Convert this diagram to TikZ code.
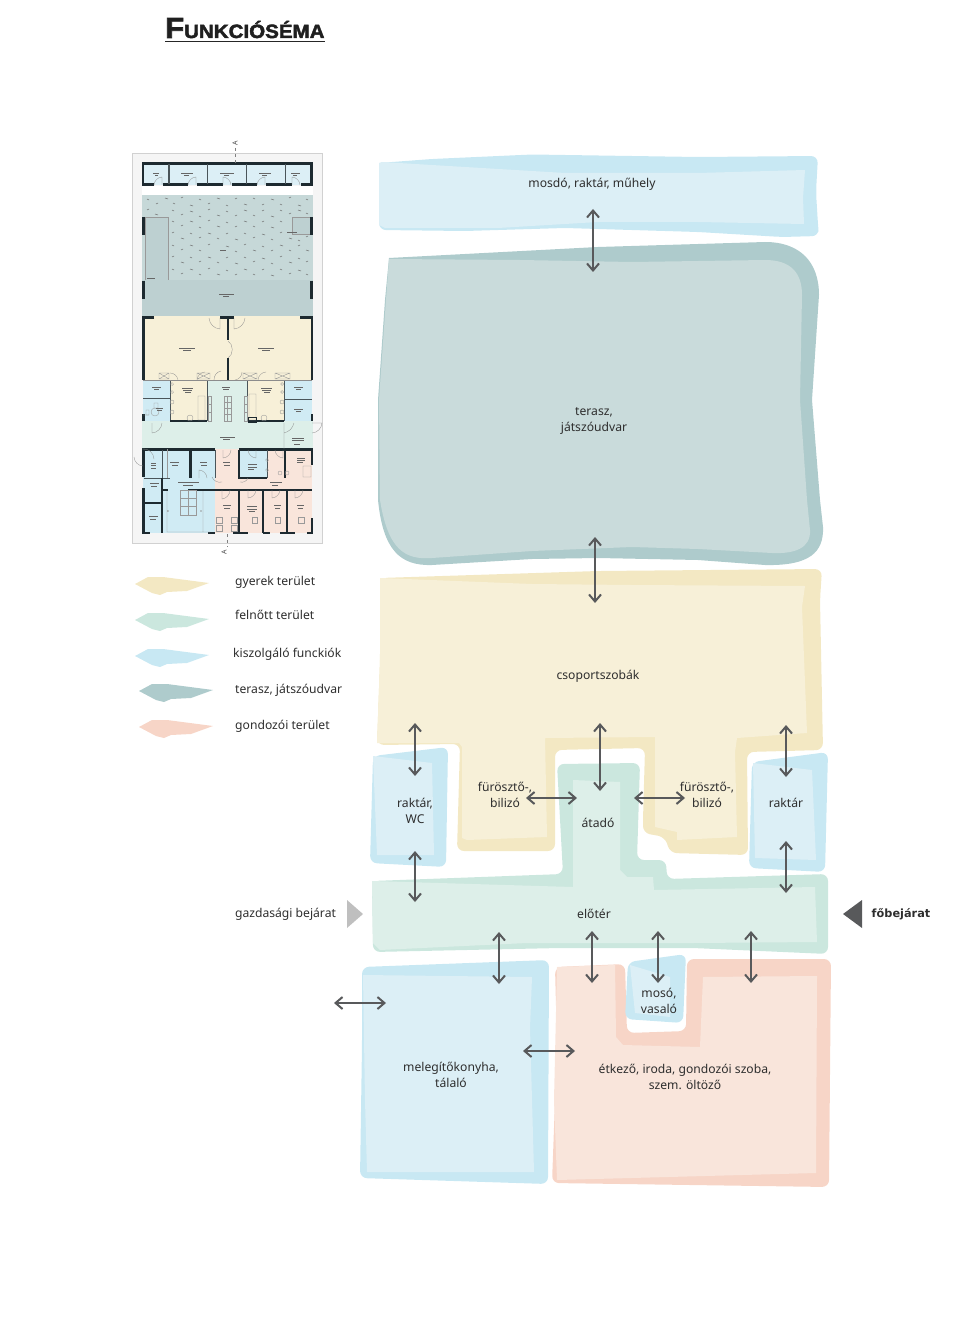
\documentclass[tikz,border=0pt]{standalone}
\usepackage{fontspec}
\setmainfont{Noto Sans}[BoldFont=DejaVu Sans Bold]
\newfontfamily\titlefont{Liberation Sans}[BoldFeatures={FakeStretch=1.07,RawFeature={embolden=2.4}}]
\usetikzlibrary{arrows.meta}
\definecolor{blueA}{HTML}{C8E8F3}
\definecolor{blueB}{HTML}{DCEFF6}
\definecolor{tealA}{HTML}{AECBCC}
\definecolor{tealB}{HTML}{C9DBDB}
\definecolor{yellowA}{HTML}{F3E8C3}
\definecolor{yellowB}{HTML}{F7F0D8}
\definecolor{greenA}{HTML}{CBE7DE}
\definecolor{greenB}{HTML}{DDEFE9}
\definecolor{pinkA}{HTML}{F7D5C7}
\definecolor{pinkB}{HTML}{F9E5DB}
\definecolor{arrowgrey}{HTML}{58595B}
\definecolor{wallblack}{HTML}{1D2A30}
\definecolor{courtgreen}{HTML}{C6D8D8}
\definecolor{terracegrey}{HTML}{BDD0D1}

\begin{document}
\begin{tikzpicture}[x=1pt,y=-1pt,
    zone/.style={rounded corners=7pt},
    label/.style={inner sep=0pt,yshift=-1.5pt,align=center,text=black!82,font=\fontsize{12.15}{16}\selectfont},
    legendtext/.style={label,anchor=west},
    link/.style={{Straight Barb[length=7pt,width=12pt,line width=2pt]}-{Straight Barb[length=7pt,width=12pt,line width=2pt]},arrowgrey,line width=2.1pt},
    wall/.style={wallblack,line width=2.4pt},
    thinwall/.style={wallblack!80,line width=0.8pt},
    door/.style={black!45,line width=0.3pt},
    furn/.style={black!40,line width=0.35pt},
    plantag/.style={black!60,line width=0.45pt},
    courtmark/.style={black!55,line width=0.5pt}]
  \useasboundingbox (0,0) rectangle (960,1337);
  % title
  \node[inner sep=0pt,anchor=base west,text=black!88] (title) at (165,38) {\titlefont\bfseries\fontsize{29}{30}\selectfont F\fontsize{19.2}{20}\selectfont UNKCIÓSÉMA};
  \draw[black!85,line width=1.5pt] (title.base west |- 0,41.3) -- (325,41.3);

  % floor plan
  \fill[black!4] (132.5,153) rectangle (322,543);
  \draw[black!18,line width=0.6pt] (132.5,153) rectangle (322,543);
  \fill[white] (142,186) rectangle (313,195);
  \fill[blueB] (143,163) rectangle (312,185);
  \fill[courtgreen] (142,195) rectangle (313,280);
  \fill[terracegrey] (145,217) rectangle (168,280);
  \fill[terracegrey] (292,217) rectangle (310,234);
  \draw[black!40,line width=0.5pt] (145,217) rectangle (168,280) (292,217) rectangle (310,234);
  \fill[terracegrey] (142,280) rectangle (313,316);
  \fill[yellowB] (143,316) rectangle (312,380);
  \fill[blueA!60!blueB] (143,381) rectangle (170,421);
  \fill[yellowB] (170,381) rectangle (207,421);
  \fill[greenB] (207,381) rectangle (247,421);
  \fill[yellowB] (247,381) rectangle (284,421);
  \fill[blueA!60!blueB] (284,381) rectangle (312,421);
  \fill[greenB] (142,421) rectangle (313,449);
  \fill[blueA!60!blueB] (143,449) rectangle (215,533);
  \fill[pinkB] (215,449) rectangle (239,490);
  \fill[blueA!60!blueB] (239,449) rectangle (267,478);
  \fill[pinkB] (267,449) rectangle (312,478);
  \fill[pinkB] (239,478) rectangle (312,490);
  \fill[pinkB] (215,490) rectangle (312,533);
  \draw[courtmark] (147,199)--+(2,1) (156,204)--+(2,-1) (165,198)--+(3,1) (173,203)--+(2,1) (181,198)--+(2,-1) (190,205)--+(3,1)
    (199,199)--+(2,1) (208,204)--+(2,-1) (217,198)--+(3,1) (226,205)--+(2,1) (235,199)--+(2,-1) (244,204)--+(3,1)
    (253,198)--+(2,1) (262,205)--+(2,-1) (271,199)--+(3,1) (280,204)--+(2,1) (289,198)--+(2,-1) (298,205)--+(3,1) (306,199)--+(2,1)
    (147,210)--+(2,-1) (155,214)--+(3,1) (172,210)--+(2,1) (181,215)--+(2,-1) (190,211)--+(3,1) (199,216)--+(2,1) (208,210)--+(2,-1)
    (217,215)--+(3,1) (226,211)--+(2,1) (235,216)--+(2,-1) (244,210)--+(3,1) (253,215)--+(2,1) (262,211)--+(2,-1) (271,216)--+(3,1)
    (280,210)--+(2,1) (289,214)--+(2,-1) (298,210)--+(3,1) (306,213)--+(2,1)
    (172,221)--+(2,1) (181,226)--+(2,-1) (190,221)--+(3,1) (199,227)--+(2,1) (208,221)--+(2,-1) (217,226)--+(3,1) (226,222)--+(2,1)
    (235,227)--+(2,-1) (244,221)--+(3,1) (253,226)--+(2,1) (262,222)--+(2,-1) (271,227)--+(3,1) (280,221)--+(2,1)
    (172,233)--+(2,-1) (181,238)--+(3,1) (190,233)--+(2,1) (199,238)--+(2,-1) (208,233)--+(3,1) (217,238)--+(2,1) (226,234)--+(2,-1)
    (235,239)--+(3,1) (244,233)--+(2,1) (253,238)--+(2,-1) (262,234)--+(3,1) (271,239)--+(2,1) (280,233)--+(2,-1) (289,238)--+(3,1) (298,240)--+(2,1) (306,237)--+(2,-1)
    (172,245)--+(2,1) (181,250)--+(2,-1) (190,245)--+(3,1) (199,250)--+(2,1) (208,245)--+(2,-1) (226,246)--+(3,1) (235,251)--+(2,1)
    (244,245)--+(2,-1) (253,250)--+(3,1) (262,246)--+(2,1) (271,251)--+(2,-1) (280,245)--+(3,1) (289,250)--+(2,1) (298,246)--+(2,-1) (306,250)--+(3,1)
    (172,257)--+(2,-1) (181,262)--+(3,1) (190,257)--+(2,1) (199,262)--+(2,-1) (208,257)--+(3,1) (217,262)--+(2,1) (226,258)--+(2,-1)
    (235,263)--+(3,1) (244,257)--+(2,1) (253,262)--+(2,-1) (262,258)--+(3,1) (271,263)--+(2,1) (280,257)--+(2,-1) (289,262)--+(3,1) (298,258)--+(2,1) (306,262)--+(2,-1)
    (172,269)--+(2,1) (181,274)--+(2,-1) (190,269)--+(3,1) (199,274)--+(2,1) (208,269)--+(2,-1) (217,274)--+(3,1) (226,270)--+(2,1)
    (235,275)--+(2,-1) (244,269)--+(3,1) (253,274)--+(2,1) (262,270)--+(2,-1) (271,275)--+(3,1) (280,269)--+(2,1) (289,274)--+(2,-1) (298,270)--+(3,1) (306,274)--+(2,1);
  % plan walls
  \draw[wall] (154,184.7) -- (142.8,184.7) -- (142.8,163.7) -- (311.3,163.7) -- (311.3,184.7) -- (300.7,184.7);
  \draw[wall] (162.7,184.7) -- (188,184.7) (196.7,184.7) -- (223,184.7) (231.7,184.7) -- (257,184.7) (265.7,184.7) -- (292,184.7);
  \draw[thinwall,line width=1.1pt] (169,164) -- (169,184) (207.7,164) -- (207.7,184) (246.7,164) -- (246.7,184) (285.7,164) -- (285.7,184);
  \draw[wall,line width=2.6pt] (143.3,217) -- (143.3,235) (143.3,281) -- (143.3,299) (311.7,217) -- (311.7,235) (311.7,281) -- (311.7,299);
  \draw[wall] (154,317.5) -- (143.3,317.5) -- (143.3,380) (220,317.5) -- (234,317.5) (300,317.5) -- (311.7,317.5) -- (311.7,380);
  \draw[wall] (228,317.5) -- (228,340) (228,358) -- (228,380);
  \draw[black!45,line width=0.8pt] (143,380) -- (312,380);
  \draw[thinwall] (170,381) -- (170,421) (207,381) -- (207,421) (247,381) -- (247,421) (284,381) -- (284,421) (143,398) -- (170,398) (284,399) -- (312,399);
  \draw[wall,line width=1.5pt] (170,421) -- (207,421) (247,421) -- (284,421);
  \draw[wall] (143.3,414) -- (143.3,421) (311.7,414) -- (311.7,421);
  \draw[wall] (143.3,477) -- (143.3,449.5) -- (215,449.5) (239,449.5) -- (311.7,449.5) -- (311.7,465);
  \draw[wall] (143.3,488) -- (143.3,533) -- (150,533) (208,533) -- (215,533) (233,533) -- (248,533) (263,533) -- (270,533) (280,533) -- (295,533) (307,533) -- (311.7,533) -- (311.7,518);
  \draw[thinwall] (162,450) -- (162,478) (215,450) -- (215,478) (144,478) -- (170,478);
  \draw[wall,line width=2.4pt] (190.5,450) -- (190.5,478);
  \draw[wall,line width=1.2pt] (162,478) -- (162,533) (144,503) -- (162,503) (162,490) -- (168,490) (188,490) -- (215,490);
  \draw[wall,line width=1.2pt] (239,450) -- (239,478) -- (267,478) (285,450) -- (285,478);
  \draw[thinwall] (267,450) -- (267,478);
  \draw[wall,line width=1.2pt] (215,490) -- (312,490) (239,490) -- (239,533) (263,490) -- (263,533) (287,490) -- (287,533);
  % doors
  \draw[door] (220,329) -- (220,318) (209,318) to[bend right=40] (220,329);
  \draw[door] (234,329) -- (234,318) (245,318) to[bend left=40] (234,329);
  \draw[door] (228,341) to[bend left=60] (228,358);
  \draw[door] (154,185) to[bend left=40] (162,177) -- (162,185) (188,185) to[bend left=40] (196,177) -- (196,185);
  \draw[door] (231,185) to[bend right=40] (223,177) -- (223,185) (257,185) to[bend left=40] (265,177) -- (265,185);
  \draw[door] (300,185) to[bend right=40] (292,177) -- (292,185);
  \draw[door] (143,415) -- (149,415) (170,373) to[bend left=40] (178,380) (197,380) to[bend left=40] (205,372) (214,380) to[bend left=40] (221,371);
  \draw[door] (235,380) to[bend right=40] (242,372) (258,380) to[bend left=40] (266,372);
  \draw[door] (152,423) -- (152,433) (152,433) to[bend right=40] (162,423);
  \draw[door] (312,423) -- (322,423) (312,433) to[bend right=40] (322,423);
  \draw[door] (284,423) -- (284,449) (284,433) to[bend right=30] (294,423);
  \draw[door] (142,449) to[bend left=50] (154,459) (134,457) to[bend right=40] (143,466);
  \draw[door] (223,450) -- (223,458) to[bend right=40] (231,450);
  \draw[door] (256,450) -- (256,458) to[bend left=40] (248,450) (275,450) to[bend right=40] (283,458) -- (283,450);
  \draw[door] (199,478) -- (199,470) to[bend left=40] (207,478) (222,482) to[bend left=40] (212,477);
  \draw[door] (240,482) to[bend right=40] (248,478) (222,490) -- (222,499) to[bend right=40] (230,490);
  \draw[door] (248,490) -- (248,498) to[bend right=40] (256,490) (272,490) -- (272,498) to[bend right=40] (280,490);
  \draw[door] (295,490) -- (295,498) to[bend right=40] (303,490);
  % plan furniture
  \draw[black!40,line width=0.4pt] (159,373) rectangle (169,379) (159,373) -- (169,379) (159,379) -- (169,373);
  \draw[black!40,line width=0.4pt] (197,373) rectangle (210,379) (197,373) -- (210,379) (197,379) -- (210,373);
  \draw[black!40,line width=0.4pt] (243,373) rectangle (257,379) (243,373) -- (257,379) (243,379) -- (257,373);
  \draw[black!40,line width=0.4pt] (275,373) rectangle (290,379) (275,373) -- (290,379) (275,379) -- (290,373);
  \draw[furn] (224,396) rectangle (231,421) (224,402) -- (231,402) (224,408) -- (231,408) (224,414) -- (231,414) (227.5,396) -- (227.5,421);
  \draw[furn] (208,396) rectangle (211,421) (244,396) rectangle (247,421) (208,404) -- (211,404) (208,412) -- (211,412) (244,404) -- (247,404) (244,412) -- (247,412);
  \draw[furn] (198,396) rectangle (205,420) (249,394) rectangle (256,420) (172,384) circle (1.5) (172,392) circle (1.5) (172,402) circle (2) (172,412) circle (2) (282,402) circle (2) (282,412) circle (2) (282,384) circle (1.5) (282,392) circle (1.5) (190,418) circle (3) (264,418) circle (3);
  \draw[furn] (155,412) circle (4) (154,403) rectangle (158,408) (146,410) rectangle (149,415);
  \draw[wallblack,line width=0.7pt] (248,417) rectangle (256,422);
  \draw[furn] (180,490) rectangle (196,515) (188,490) -- (188,515) (180,498) -- (196,498) (180,506) -- (196,506);
  \draw[furn] (168,511) circle (0.6) (201,511) circle (0.6) (167,491) -- (167,532) -- (210,532) (203,491) -- (203,532);
  \draw[furn] (216,517) rectangle (222,523) (216,525) rectangle (222,531) (231,517) rectangle (237,523) (231,525) rectangle (237,531);
  \draw[furn] (252,517) rectangle (257,523) (275,517) rectangle (280,523) (298,517) rectangle (304,523);
  \draw[furn] (267,470) circle (1.5) (267,460) circle (1.5) (280,473) circle (2) (287,473) circle (2) (303,466) rectangle (311,477);
  \draw[furn] (167,449) -- (167,478);
  % plan room labels, too small to read
  \draw[plantag] (153,173.5)--+(6,0) (155,175.5)--+(3,0) (181,173.5)--+(12,0) (184,175.5)--+(5,0) (220,173.5)--+(14,0) (224,175.5)--+(5,0);
  \draw[plantag] (259,173.5)--+(12,0) (262,175.5)--+(5,0) (291,173.5)--+(9,0) (293,175.5)--+(4,0) (287,232.5)--+(10,0) (220,250)--+(6,0) (147,278.5)--+(8,0);
  \draw[plantag] (219,294.5)--+(15,0) (223,296.5)--+(6,0) (179,348)--+(16,0) (183,350)--+(8,0) (258,348)--+(16,0) (262,350)--+(8,0);
  \draw[plantag] (152,387)--+(9,0) (154,389)--+(5,0) (182,388)--+(11,0) (183,390)--+(9,0) (185,392.5)--+(6,0) (222,387)--+(8,0) (223,389.5)--+(6,0);
  \draw[plantag] (261,388)--+(11,0) (262,390)--+(9,0) (264,392.5)--+(6,0) (294,387)--+(9,0) (296,389)--+(5,0) (294,409)--+(9,0) (296,411)--+(5,0) (156,408)--+(7,0) (157,410)--+(5,0);
  \draw[plantag] (220,437)--+(15,0) (223,439.5)--+(7,0) (292,438)--+(12,0) (292,440)--+(12,0) (294,444)--+(6,0);
  \draw[plantag] (151,463)--+(5,0) (151,465)--+(5,0) (151,468)--+(5,0) (170,462)--+(9,0) (172,465)--+(6,0) (200,462)--+(7,0) (201,465)--+(6,0) (223,462)--+(7,0) (224,465)--+(6,0) (248,464)--+(9,0) (248,467)--+(9,0) (248,469)--+(6,0) (297,458)--+(8,0) (297,460)--+(8,0) (297,462)--+(6,0);
  \draw[plantag] (150,483)--+(9,0) (151,486)--+(6,0) (178,482)--+(21,0) (183,485)--+(10,0) (270,482)--+(12,0) (272,485)--+(6,0) (149,516)--+(9,0) (150,519)--+(6,0);
  \draw[plantag] (223,505)--+(8,0) (224,508)--+(6,0) (247,506)--+(10,0) (247,509)--+(10,0) (249,511)--+(6,0) (274,505)--+(7,0) (275,508)--+(5,0) (297,505)--+(7,0) (298,508)--+(5,0);
  % section marks
  \draw[black!50,dashed,line width=0.35pt] (235,148) -- (235,163);
  \node[inner sep=0pt,rotate=90,font=\fontsize{7}{8}\selectfont,text=black!70] (secA) at (235,143) {A};
  \draw[black!50,dashed,line width=0.35pt] (227,534) -- (227,547);
  \node[inner sep=0pt,rotate=90,font=\fontsize{7}{8}\selectfont,text=black!70] (secB) at (224,552) {A};

  % legend
  \fill[yellowA] (135,584) -- (148,577) -- (163,577) -- (209,583) -- (187,591) -- (167,592) -- (160,595) -- (152,593) -- cycle;
  \fill[greenA] (135,620) -- (148,613) -- (163,613) -- (209,619) -- (187,627) -- (167,628) -- (160,631) -- (152,629) -- cycle;
  \fill[blueA] (135,656) -- (148,649) -- (163,649) -- (209,655) -- (187,663) -- (167,664) -- (160,667) -- (152,665) -- cycle;
  \fill[tealA] (139,691) -- (152,684) -- (167,684) -- (213,690) -- (191,698) -- (171,699) -- (164,702) -- (156,700) -- cycle;
  \fill[pinkA] (139,727) -- (152,720) -- (167,720) -- (213,726) -- (191,734) -- (171,735) -- (164,738) -- (156,736) -- cycle;
  \node[legendtext] (lgyerek) at (235,581) {gyerek terület};
  \node[legendtext] (lfelnott) at (235,613.5) {felnőtt terület};
  \node[legendtext] (lkiszolg) at (233,653) {kiszolgáló funckiók};
  \node[legendtext] (lterasz) at (235,689) {terasz, játszóudvar};
  \node[legendtext] (lgondozo) at (235,725) {gondozói terület};

  % zones, outer band then lighter inside
  \fill[blueA,zone] (379,163) -- (432,159) -- (532,154.5) -- (698,157) -- (818,156) -- (816,192) -- (818,225) -- (819,236) -- (782,237) -- (698,232) -- (565,228) -- (465,231) -- (379,230) -- cycle;
  \fill[blueB] (382,162) -- (465,167) -- (565,173) -- (698,173) -- (805,170) -- (803,198) -- (804,224) -- (698,222) -- (598,222) -- (498,228) -- (385,228) -- (379,225) -- (379,163) -- cycle;

  \fill[tealA] (389,258) -- (598,247) -- (765,242) .. controls (800,242) and (819,262) .. (819,295) -- (812,400) -- (820,500) -- (823,527) .. controls (824,552) and (810,566) .. (765,565) -- (698,560) -- (598,558) -- (532,559) -- (432,565) .. controls (400,566) and (383,550) .. (378,500) -- (378,400) -- (385,300) -- cycle;
  \fill[tealB] (389,259) -- (520,260) -- (632,262) -- (765,260) .. controls (790,260) and (802,272) .. (802,295) -- (800,400) -- (807,500) -- (810,530) .. controls (811,548) and (795,554) .. (772,553) -- (698,549) -- (632,547) -- (532,551) -- (432,558) .. controls (405,560) and (388,550) .. (380,500) -- (379,400) -- (386,300) -- cycle;

  \fill[yellowA,zone] (380,578) -- (598,571) -- (822,569) -- (820,600) -- (823,750) -- (747,752) -- (748,855) -- (670,853) -- (665,837) -- (643,833) -- (643,820) -- (645,748) -- (555,750) -- (555,851) -- (457,851) -- (460,744) -- (377,745) -- (380,660) -- cycle;
  \fill[yellowB] (380,578) -- (532,584) -- (632,585) -- (805,586) -- (802,607) -- (807,733) -- (737,738) -- (735,752) -- (737,837) -- (677,840) -- (677,832) -- (655,827) -- (655,737) -- (545,738) -- (547,837) -- (467,840) -- (462,838) -- (462,747) -- (459,743) -- (377,743) -- (380,660) -- cycle;

  \fill[blueA,zone] (373,756) -- (448,747) -- (446,867) -- (370,863) -- cycle;
  \fill[blueB] (373,756) -- (432,763) -- (434,855) -- (377,855) -- cycle;
  \fill[blueA,zone] (752,762) -- (828,752) -- (825,872) -- (749,868) -- cycle;
  \fill[blueB] (753,763) -- (812,770) -- (816,860) -- (755,858) -- cycle;

  \fill[greenA,zone] (372,881) -- (563,874) -- (557,764) -- (640,763) -- (637,860) -- (666,860) -- (667,879) -- (828,874) -- (828,954) -- (693,948) -- (560,948) -- (373,952) -- cycle;
  \fill[greenB] (372,881) -- (573,887) -- (573,780) -- (620,782) -- (620,870) -- (627,877) -- (653,877) -- (654,890) -- (815,887) -- (817,942) -- (693,943) -- (527,943) -- (380,950) -- (373,943) -- cycle;

  \fill[blueA,zone] (362,967) -- (549,960) -- (548,1184) -- (360,1178) -- (362,1045) -- cycle;
  \fill[blueB] (363,975) -- (532,977) -- (530,1028) -- (534,1172) -- (367,1172) -- (365,1100) -- cycle;

  \fill[pinkA,zone] (555,967) -- (625,964) -- (627,1033) -- (686,1031) -- (687,959) -- (831,959) -- (829,1187) -- (552,1183) -- (557,1045) -- cycle;
  \fill[pinkB] (557,967) -- (615,965) -- (616,1037) -- (623,1045) -- (700,1047) -- (703,977) -- (817,976) -- (816,1173) -- (557,1180) -- (554,1100) -- cycle;

  \fill[blueA,zone] (628,962) -- (686,954) -- (683,1023) -- (625,1019) -- cycle;
  \fill[blueB] (630,965) -- (670,977) -- (670,1017) -- (635,1013) -- cycle;

  % entrance markers
  \fill[black!25] (347,900) -- (363,914) -- (347,928) -- cycle;
  \fill[arrowgrey] (862,900) -- (843,914) -- (862,928) -- cycle;

  % zone labels
  \node[label] (mosdo) at (592,183) {mosdó, raktár, műhely};
  \node[label] (terasz) at (594,419) {terasz,\\játszóudvar};
  \node[label] (csoport) at (598,675) {csoportszobák};
  \node[label] (raktarwc) at (415,809) {raktár,\\WC};
  \node[label] (furosztoL) at (505,793) {fürösztő-,\\bilizó};
  \node[label] (furosztoR) at (707,793) {fürösztő-,\\bilizó};
  \node[label] (raktar) at (786,801) {raktár};
  \node[label] (atado) at (598,821) {átadó};
  \node[label] (eloter) at (594,912) {előtér};
  \node[label] (gazdasagi) at (285.5,913) {gazdasági bejárat};
  \node[label,font=\fontsize{11.3}{16}\selectfont\bfseries] (fobejarat) at (901,913) {főbejárat};
  \node[label] (moso) at (659,999) {mosó,\\vasaló};
  \node[label] (konyha) at (451,1073) {melegítőkonyha,\\tálaló};
  \node[label] (etkezo) at (685,1075) {étkező, iroda, gondozói szoba,\\szem. öltöző};

  % connector ends
  \coordinate (t1) at (593,209); \coordinate (b1) at (593,272);
  \coordinate (t2) at (595,537); \coordinate (b2) at (595,603);
  \coordinate (t3) at (415,723); \coordinate (b3) at (415,776);
  \coordinate (t4) at (600,723); \coordinate (b4) at (600,791);
  \coordinate (t5) at (786,725); \coordinate (b5) at (786,777);
  \coordinate (t6) at (415,851); \coordinate (b6) at (415,902);
  \coordinate (t7) at (786,841); \coordinate (b7) at (786,893);
  \coordinate (t8) at (499,932); \coordinate (b8) at (499,984);
  \coordinate (t9) at (592,931); \coordinate (b9) at (592,983);
  \coordinate (t10) at (658,931); \coordinate (b10) at (658,983);
  \coordinate (t11) at (751,931); \coordinate (b11) at (751,983);
  \coordinate (l1) at (526,798); \coordinate (r1) at (577,798);
  \coordinate (l2) at (634,798); \coordinate (r2) at (685,798);
  \coordinate (l3) at (334,1003); \coordinate (r3) at (386,1003);
  \coordinate (l4) at (523,1051); \coordinate (r4) at (575,1051);
  \draw[link] (t1) -- (b1);
  \draw[link] (t2) -- (b2);
  \draw[link] (t3) -- (b3);
  \draw[link] (t4) -- (b4);
  \draw[link] (t5) -- (b5);
  \draw[link] (t6) -- (b6);
  \draw[link] (t7) -- (b7);
  \draw[link] (t8) -- (b8);
  \draw[link] (t9) -- (b9);
  \draw[link] (t10) -- (b10);
  \draw[link] (t11) -- (b11);
  \draw[link] (l1) -- (r1);
  \draw[link] (l2) -- (r2);
  \draw[link] (l3) -- (r3);
  \draw[link] (l4) -- (r4);
\end{tikzpicture}
\end{document}
